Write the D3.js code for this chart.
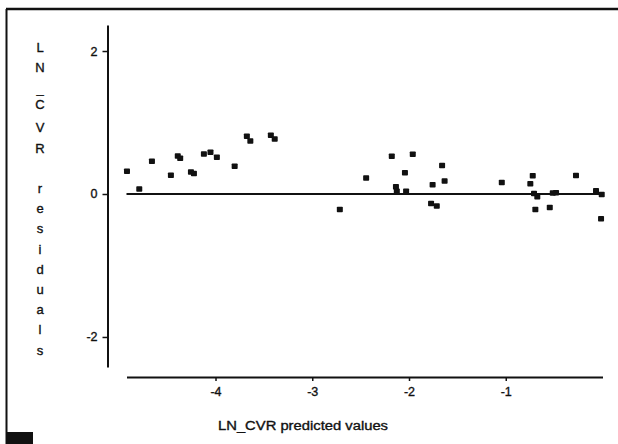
<!DOCTYPE html>
<html>
<head>
<meta charset="utf-8">
<script src="https://cdn.jsdelivr.net/npm/d3@7/dist/d3.min.js"></script>
<style>
  html, body { margin: 0; padding: 0; background: #fff; }
  svg { display: block; }
  text { font-family: "Liberation Sans", Arial, sans-serif; fill: #111; stroke: #111; stroke-width: 0.35px; }
</style>
</head>
<body>
<svg id="chart" width="618" height="444"></svg>
<script>
// LN_CVR: predicted values against residuals
const predicted = [
  -4.915, -4.788, -4.657, -4.461, -4.390, -4.365, -4.254, -4.223, -4.120, -4.052,
  -3.986, -3.802, -3.676, -3.640, -3.428, -3.388, -2.715, -2.443, -2.178, -1.961,
  -2.042, -2.135, -2.126, -2.030, -1.756, -1.658, -1.632, -1.772, -1.713, -1.041,
  -0.721, -0.746, -0.708, -0.674, -0.694, -0.545, -0.514, -0.480, -0.274, -0.067,
  -0.008, -0.015
];
const residuals = [
   0.322,  0.074,  0.462,  0.266,  0.536,  0.503,  0.312,  0.290,  0.564,  0.587,
   0.517,  0.392,  0.811,  0.744,  0.825,  0.773, -0.214,  0.228,  0.531,  0.559,
   0.301,  0.105,  0.042,  0.042,  0.133,  0.403,  0.186, -0.130, -0.165,  0.164,
   0.259,  0.147,  0.010, -0.035, -0.213, -0.185,  0.017,  0.021,  0.263,  0.049,
  -0.004, -0.343
];
const xTicks = [-4, -3, -2, -1];
const yTicks = [2, 0, -2];
const xDomain = [-4.92, 0];
const yDomain = [-2.42, 2.364];
const xTitle = "LN_CVR predicted values";
const yTitleLines = ["L", "N", "_", "C", "V", "R", " ", "r", "e", "s", "i", "d", "u", "a", "l", "s"];

const svg = d3.select("#chart");
const ink = "#111";

// page frame (left and top rules) and the corner block
svg.append("line").attr("x1", 6.5).attr("x2", 6.5).attr("y1", 9).attr("y2", 444)
  .attr("stroke", ink).attr("stroke-width", 2);
svg.append("line").attr("x1", 6).attr("x2", 618).attr("y1", 9).attr("y2", 9)
  .attr("stroke", ink).attr("stroke-width", 2.5);
svg.append("rect").attr("x", 7).attr("y", 432).attr("width", 26).attr("height", 12)
  .attr("fill", ink);

const x = d3.scaleLinear().domain(xDomain).range([126.5, 602.5]);
const y = d3.scaleLinear().domain(yDomain).range([367, 25]);

// x axis
const gx = svg.append("g").attr("transform", "translate(0,377)")
  .call(d3.axisBottom(x).tickValues(xTicks).tickSizeOuter(0).tickSizeInner(4)
    .tickPadding(6).tickFormat(d => "-" + Math.abs(d)));
gx.select(".domain").attr("stroke", ink).attr("stroke-width", 2);
gx.selectAll(".tick line").attr("stroke", ink).attr("stroke-width", 1.5);
gx.selectAll(".tick text").attr("font-size", 12.5).attr("font-family", "Liberation Sans, Arial, sans-serif")
  .attr("fill", ink);

// y axis
const gy = svg.append("g").attr("transform", "translate(107.5,0)")
  .call(d3.axisLeft(y).tickValues(yTicks).tickSizeOuter(0).tickSizeInner(5)
    .tickPadding(5).tickFormat(d => d < 0 ? "-" + Math.abs(d) : String(d)));
gy.select(".domain").attr("stroke", ink).attr("stroke-width", 2);
gy.selectAll(".tick line").attr("stroke", ink).attr("stroke-width", 1.5);
gy.selectAll(".tick text").attr("font-size", 12.5).attr("font-family", "Liberation Sans, Arial, sans-serif")
  .attr("fill", ink);

// zero reference line
svg.append("line")
  .attr("x1", x(xDomain[0])).attr("x2", x(xDomain[1]) + 1)
  .attr("y1", y(0)).attr("y2", y(0))
  .attr("stroke", ink).attr("stroke-width", 2);

// residual points
const pts = predicted.map((p, i) => ({ p, r: residuals[i] }));
svg.append("g").selectAll("rect").data(pts).join("rect")
  .attr("x", d => x(d.p) - 3)
  .attr("y", d => y(d.r) - 2.5)
  .attr("width", 6).attr("height", 5.5)
  .attr("rx", 0.8)
  .attr("fill", ink);

// axis titles
svg.append("text").attr("x", 218).attr("y", 430)
  .attr("font-size", 12.5).attr("textLength", 170).attr("lengthAdjust", "spacingAndGlyphs")
  .text(xTitle);

// vertical title, one character per line; the underscore sits tight above the C
const step = 20.2;
svg.append("g").selectAll("text").data(yTitleLines).join("text")
  .attr("x", 40)
  .attr("y", (d, i) => {
    const base = 47 + i * step + 4.5;
    if (d === "_") return base + 1;
    if (i === 3) return base - 3;
    return base;
  })
  .attr("text-anchor", "middle")
  .attr("font-size", 13)
  .text(d => d);
</script>
</body>
</html>
